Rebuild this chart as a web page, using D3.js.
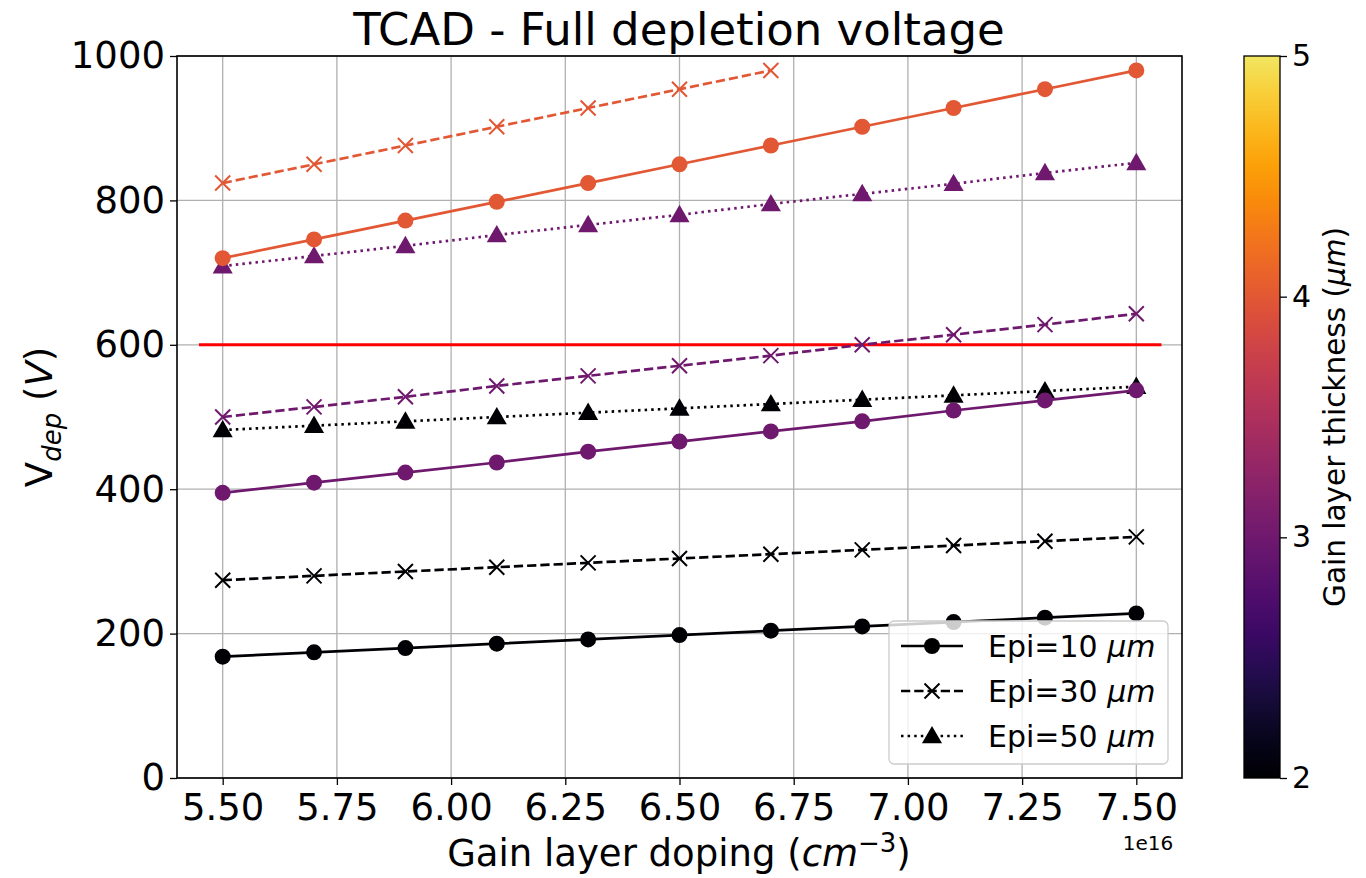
<!DOCTYPE html>
<html><head><meta charset="utf-8">
<script src="https://cdn.jsdelivr.net/npm/d3@7"></script>
<style>body{margin:0;background:#fff;} text{font-family:"DejaVu Sans",sans-serif;}</style>
</head><body>
<svg id="c" width="1366" height="878"></svg>
<script>
const doping = [5.5,5.7,5.9,6.1,6.3,6.5,6.7,6.9,7.1,7.3,7.5];
// thickness 2 um
const t2_epi10 = [168,174,180,186,192,198,204,210,216,222,228];
const t2_epi30 = [274,280,286,292,298,304,310,316,322,328,334];
const t2_epi50 = [482,488,494,500,506,512,518,524,530,536,542];
// thickness 3 um
const t3_epi10 = [395,409,423,437,452,466,480,494,509,523,537];
const t3_epi30 = [500,514,528,543,557,571,585,600,614,628,643];
const t3_epi50 = [709,723,737,752,766,780,795,809,823,838,852];
// thickness 4 um
const t4_epi10 = [720,746,772,798,824,850,876,902,928,954,980];
const t4_epi30 = [824,850,876,902,928,954,980];
const xTicks = [5.5,5.75,6.0,6.25,6.5,6.75,7.0,7.25,7.5];
const yTicks = [0,200,400,600,800,1000];
const cbTicks = [2,3,4,5];
const limitV = 600;
const limitX = [5.448,7.555];

const series = [
  {th:2, epi:10, v:t2_epi10},{th:2, epi:30, v:t2_epi30},{th:2, epi:50, v:t2_epi50},
  {th:3, epi:10, v:t3_epi10},{th:3, epi:30, v:t3_epi30},{th:3, epi:50, v:t3_epi50},
  {th:4, epi:10, v:t4_epi10},{th:4, epi:30, v:t4_epi30}
];

const svg = d3.select("#c");
const L=177, R=1182, T=56, B=778;
const x = d3.scaleLinear().domain([5.4,7.6]).range([L,R]);
const y = d3.scaleLinear().domain([0,1000]).range([B,T]);
const cnorm = d3.scaleLinear().domain([2,5]).range([0,0.93]);
const col = th => d3.interpolateInferno(cnorm(th));

// grid
const g = svg.append("g");
g.selectAll(".gx").data(xTicks).join("line").attr("x1",d=>x(d)).attr("x2",d=>x(d)).attr("y1",T).attr("y2",B).attr("stroke","#b0b0b0").attr("stroke-width",1.3);
g.selectAll(".gy").data(yTicks).join("line").attr("y1",d=>y(d)).attr("y2",d=>y(d)).attr("x1",L).attr("x2",R).attr("stroke","#b0b0b0").attr("stroke-width",1.3);

// red limit line
svg.append("line").attr("x1",x(limitX[0])).attr("x2",x(limitX[1])).attr("y1",y(limitV)).attr("y2",y(limitV)).attr("stroke","#ff0000").attr("stroke-width",3);

const dash = {10:null, 30:"9.25,4", 50:"2.5,4.1"};
const lineGen = d3.line().x((d,i)=>x(doping[i])).y(d=>y(d));

function marker(sel, epi, c, cx, cy){
  if(epi===30){
    const s=7.5;
    sel.append("path").attr("d",`M${cx-s},${cy-s}L${cx+s},${cy+s}M${cx-s},${cy+s}L${cx+s},${cy-s}`).attr("stroke",c).attr("stroke-width",2).attr("fill","none");
  } else if(epi===10){
    sel.append("circle").attr("cx",cx).attr("cy",cy).attr("r",8).attr("fill",c);
  } else {
    sel.append("path").attr("d",d3.symbol().type(d3.symbolTriangle).size(175)()).attr("transform",`translate(${cx},${cy+1.5})`).attr("fill",c);
  }
}

series.forEach(s=>{
  const c = col(s.th);
  const gs = svg.append("g");
  gs.append("path").attr("d",lineGen(s.v)).attr("fill","none").attr("stroke",c).attr("stroke-width",2.7)
    .attr("stroke-dasharray",dash[s.epi]);
  s.v.forEach((v,i)=>marker(gs, s.epi, c, x(doping[i]), y(v)));
});

// spines
svg.append("rect").attr("x",L).attr("y",T).attr("width",R-L).attr("height",B-T).attr("fill","none").attr("stroke","#000").attr("stroke-width",1.6);

// axes
const xa = svg.append("g").attr("transform",`translate(0,${B})`).call(d3.axisBottom(x).tickValues(xTicks).tickFormat(d3.format(".2f")).tickSize(7).tickPadding(5));
const ya = svg.append("g").attr("transform",`translate(${L},0)`).call(d3.axisLeft(y).tickValues(yTicks).tickFormat(d3.format("d")).tickSize(7).tickPadding(5));
[xa,ya].forEach(a=>{a.select(".domain").remove(); a.selectAll("text").attr("font-size",37).attr("fill","#000").style("font-family","DejaVu Sans"); a.selectAll("line").attr("stroke","#000").attr("stroke-width",1.3);});
xa.selectAll("text").attr("dy","0.8em");

svg.append("text").attr("x",1148).attr("y",850).attr("font-size",20).attr("text-anchor","middle").text("1e16");

// title & labels
svg.append("text").attr("x",679).attr("y",45).attr("text-anchor","middle").attr("font-size",45).text("TCAD - Full depletion voltage");
const xl = svg.append("text").attr("x",679).attr("y",866).attr("text-anchor","middle").attr("font-size",37);
xl.append("tspan").text("Gain layer doping (");
xl.append("tspan").attr("font-style","italic").text("cm");
xl.append("tspan").attr("font-size",26).attr("dy",-14).text("−3");
xl.append("tspan").attr("dy",14).text(")");
const yl = svg.append("text").attr("transform",`translate(52,417) rotate(-90)`).attr("text-anchor","middle").attr("font-size",37);
yl.append("tspan").text("V");
yl.append("tspan").attr("font-size",26).attr("dy",9).attr("font-style","italic").text("dep");
yl.append("tspan").attr("dy",-9).text(" (");
yl.append("tspan").attr("font-style","italic").text("V");
yl.append("tspan").text(")");

// legend
const lg = svg.append("g").attr("transform","translate(889,621)");
lg.append("rect").attr("x",0).attr("y",0).attr("width",279).attr("height",143).attr("rx",5).attr("fill","#fff").attr("fill-opacity",0.8).attr("stroke","#cccccc").attr("stroke-width",1.3);
[10,30,50].forEach((e,i)=>{
  const cy = 25 + i*45;
  lg.append("line").attr("x1",12).attr("x2",74).attr("y1",cy).attr("y2",cy).attr("stroke","#000").attr("stroke-width",2.7).attr("stroke-dasharray",dash[e]);
  marker(lg, e, "#000", 43, cy);
  const t = lg.append("text").attr("x",99).attr("y",cy+11).attr("font-size",30);
  t.append("tspan").text(`Epi=${e} `);
  t.append("tspan").attr("font-style","italic").text("μm");
});

// colorbar
const cbX=1244, cbW=36;
const cby = d3.scaleLinear().domain([2,5]).range([B,T]);
const defs = svg.append("defs");
const grad = defs.append("linearGradient").attr("id","inf").attr("x1",0).attr("y1",1).attr("x2",0).attr("y2",0);
d3.range(0,1.0001,0.05).forEach(t=>grad.append("stop").attr("offset",t).attr("stop-color",d3.interpolateInferno(t*0.93)));
svg.append("rect").attr("x",cbX).attr("y",T).attr("width",cbW).attr("height",B-T).attr("fill","url(#inf)").attr("stroke","#000").attr("stroke-width",1.3);
const ca = svg.append("g").attr("transform",`translate(${cbX+cbW},0)`).call(d3.axisRight(cby).tickValues(cbTicks).tickFormat(d3.format("d")).tickSize(7).tickPadding(5));
ca.select(".domain").remove();
ca.selectAll("text").attr("font-size",30).attr("fill","#000").style("font-family","DejaVu Sans");
ca.selectAll("line").attr("stroke","#000").attr("stroke-width",1.3);
const cl = svg.append("text").attr("transform",`translate(1345,417) rotate(-90)`).attr("text-anchor","middle").attr("font-size",29.5);
cl.append("tspan").text("Gain layer thickness (");
cl.append("tspan").attr("font-style","italic").text("μm");
cl.append("tspan").text(")");
</script>
</body></html>
